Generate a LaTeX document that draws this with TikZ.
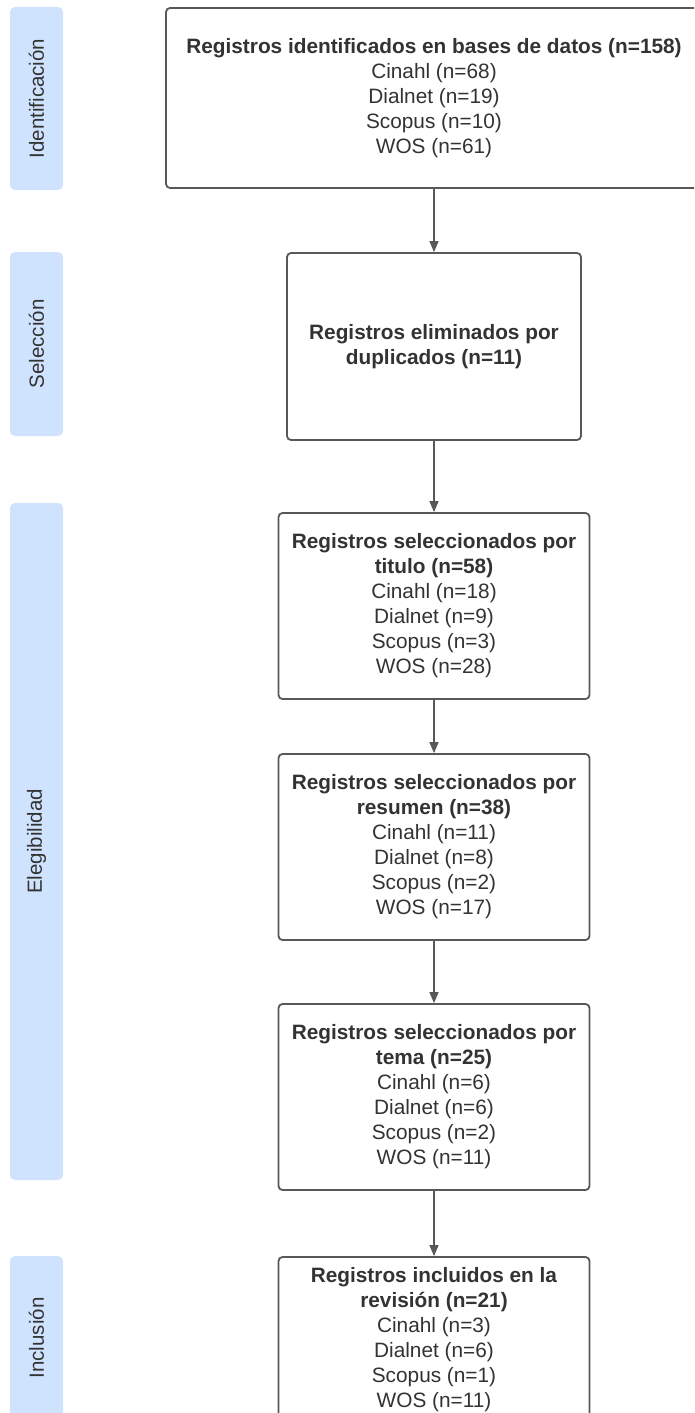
\documentclass[tikz,border=0pt]{standalone}
\usepackage{fontspec}
\setmainfont{Liberation Sans}
\usetikzlibrary{arrows.meta}
\definecolor{lane}{RGB}{208,227,254}
\definecolor{ink}{RGB}{51,51,51}
\definecolor{edge}{RGB}{88,88,88}
\begin{document}
\begin{tikzpicture}[x=1pt,y=-1pt,
  lanebox/.style={fill=lane, rounded corners=5pt, draw=none, rotate=90, text=ink,
    font=\fontsize{20.5}{24}\selectfont, inner sep=0pt},
  flowbox/.style={draw=edge, line width=1.8pt, rounded corners=4pt, fill=white,
    align=center, font=\fontsize{20.8}{25}\selectfont, text=ink, inner sep=0pt},
  conn/.style={draw=edge, line width=1.3pt, -{Triangle[length=11pt,width=9pt]}}]
\useasboundingbox (0,0) rectangle (694,1413);
\clip (0,0) rectangle (694,1413);
% lanes
\node[lanebox, minimum width=183pt, minimum height=53pt] (L1) at (36.5,98.5) {Identificación};
\node[lanebox, minimum width=184pt, minimum height=53pt] (L2) at (36.5,344) {Selección};
\node[lanebox, minimum width=677pt, minimum height=53pt] (L3) at (36.5,841.5) {Elegibilidad};
\node[lanebox, minimum width=164pt, minimum height=53pt] (L4) at (36.5,1338) {Inclusión};
% boxes
\node[flowbox, minimum width=536pt, minimum height=180pt] (b1) at (434,98)
  {\textbf{Registros identificados en bases de datos (n=158)}\\Cinahl (n=68)\\Dialnet (n=19)\\Scopus (n=10)\\WOS (n=61)};
\node[flowbox, minimum width=294pt, minimum height=187pt] (b2) at (434,346.5)
  {\textbf{Registros eliminados por}\\\textbf{duplicados (n=11)}};
\node[flowbox, minimum width=311pt, minimum height=186pt] (b3) at (434,606)
  {\textbf{Registros seleccionados por}\\\textbf{titulo (n=58)}\\Cinahl (n=18)\\Dialnet (n=9)\\Scopus (n=3)\\WOS (n=28)};
\node[flowbox, minimum width=311pt, minimum height=186pt] (b4) at (434,847)
  {\textbf{Registros seleccionados por}\\\textbf{resumen (n=38)}\\Cinahl (n=11)\\Dialnet (n=8)\\Scopus (n=2)\\WOS (n=17)};
\node[flowbox, minimum width=311pt, minimum height=186pt] (b5) at (434,1097)
  {\textbf{Registros seleccionados por}\\\textbf{tema (n=25)}\\Cinahl (n=6)\\Dialnet (n=6)\\Scopus (n=2)\\WOS (n=11)};
\node[flowbox, minimum width=311pt, minimum height=166pt] (b6) at (434,1340)
  {\textbf{Registros incluidos en la}\\\textbf{revisión (n=21)}\\Cinahl (n=3)\\Dialnet (n=6)\\Scopus (n=1)\\WOS (n=11)};
% connectors
\draw[conn] (b1) -- (b2);
\draw[conn] (b2) -- (b3);
\draw[conn] (b3) -- (b4);
\draw[conn] (b4) -- (b5);
\draw[conn] (b5) -- (b6);
\end{tikzpicture}
\end{document}
